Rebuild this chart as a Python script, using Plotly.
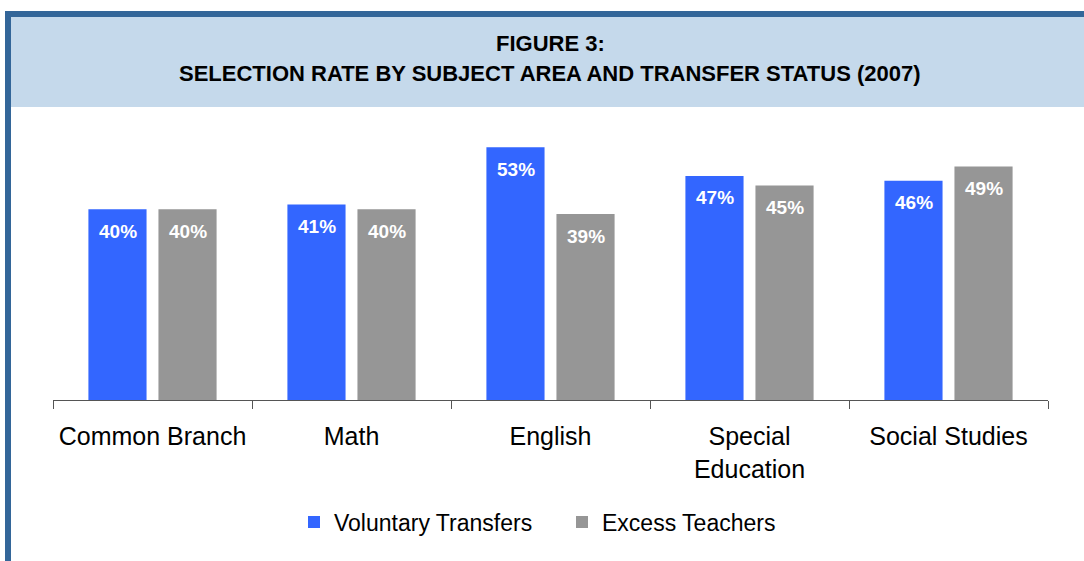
import plotly.graph_objects as go

categories = ["Common Branch", "Math", "English", "Special<br>Education", "Social Studies"]
voluntary = [40, 41, 53, 47, 46]
excess = [40, 40, 39, 45, 49]
series_names = ["Voluntary Transfers", "Excess Teachers"]
colors = ["#3366FF", "#969696"]

W, H = 1084, 561
L, R, T, B = 53, 36, 114, 161
plot_h = H - T - B
plot_w = W - L - R

def px_x(px):
    return (px - L) / plot_w

def px_y(py):
    return (H - B - py) / plot_h

fig = go.Figure()
for name, vals, col in zip(series_names, [voluntary, excess], colors):
    fig.add_trace(go.Bar(x=categories, y=vals, name=name, marker=dict(color=col, line=dict(width=0))))

offsets = [-35, 35]
for vals, off in zip([voluntary, excess], offsets):
    for c, v in zip(categories, vals):
        fig.add_annotation(x=c, y=v, text=f"{v}%", showarrow=False, xshift=off, yshift=-22,
                           yanchor="middle",
                           font=dict(family="Liberation Sans, Arial, sans-serif", size=19, color="white", weight="bold"))

# header & frame
shapes = [
    dict(type="rect", xref="paper", yref="paper", x0=px_x(11), x1=px_x(1090), y0=px_y(107), y1=px_y(17),
         fillcolor="#C5D9EB", line=dict(width=0), layer="below"),
    dict(type="rect", xref="paper", yref="paper", x0=px_x(5), x1=px_x(1090), y0=px_y(17), y1=px_y(11),
         fillcolor="#336699", line=dict(width=0), layer="below"),
    dict(type="rect", xref="paper", yref="paper", x0=px_x(5), x1=px_x(11), y0=px_y(570), y1=px_y(11),
         fillcolor="#336699", line=dict(width=0), layer="below"),
]

title_font = dict(family="Liberation Sans Narrow, Liberation Sans, Arial, sans-serif", size=22,
                  color="black", weight="bold")
fig.add_annotation(xref="paper", yref="paper", x=px_x(550), y=px_y(44), text="FIGURE 3:", showarrow=False,
                   font=title_font, yanchor="middle", xanchor="center")
fig.add_annotation(xref="paper", yref="paper", x=px_x(550), y=px_y(73),
                   text="SELECTION RATE BY SUBJECT AREA AND TRANSFER STATUS (2007)", showarrow=False,
                   font=title_font, yanchor="middle", xanchor="center")

fig.update_layout(
    width=W, height=H,
    margin=dict(l=L, r=R, t=T, b=B, pad=0),
    paper_bgcolor="white", plot_bgcolor="white",
    barmode="group", bargap=0.296, bargroupgap=0.17,
    shapes=shapes,
    showlegend=True,
    legend=dict(orientation="h", x=px_x(562), xanchor="center", y=px_y(522), yanchor="middle",
                font=dict(family="Liberation Sans, Arial, sans-serif", size=23, color="black"),
                itemwidth=30, tracegroupgap=0, entrywidth=223, entrywidthmode="pixels"),
    font=dict(family="Liberation Sans, Arial, sans-serif"),
)
fig.update_xaxes(showline=True, linecolor="#555555", linewidth=1, ticks="outside", tickson="boundaries",
                 ticklen=8, tickcolor="#555555", showgrid=False, ticklabelstandoff=14,
                 tickfont=dict(family="Liberation Sans, Arial, sans-serif", size=25, color="black"))
fig.update_yaxes(range=[0, 60], visible=False, showgrid=False)

fig.write_html("out.html", config={"displayModeBar": False},
               post_script="document.body.style.margin='0';document.body.style.overflow='hidden';")
